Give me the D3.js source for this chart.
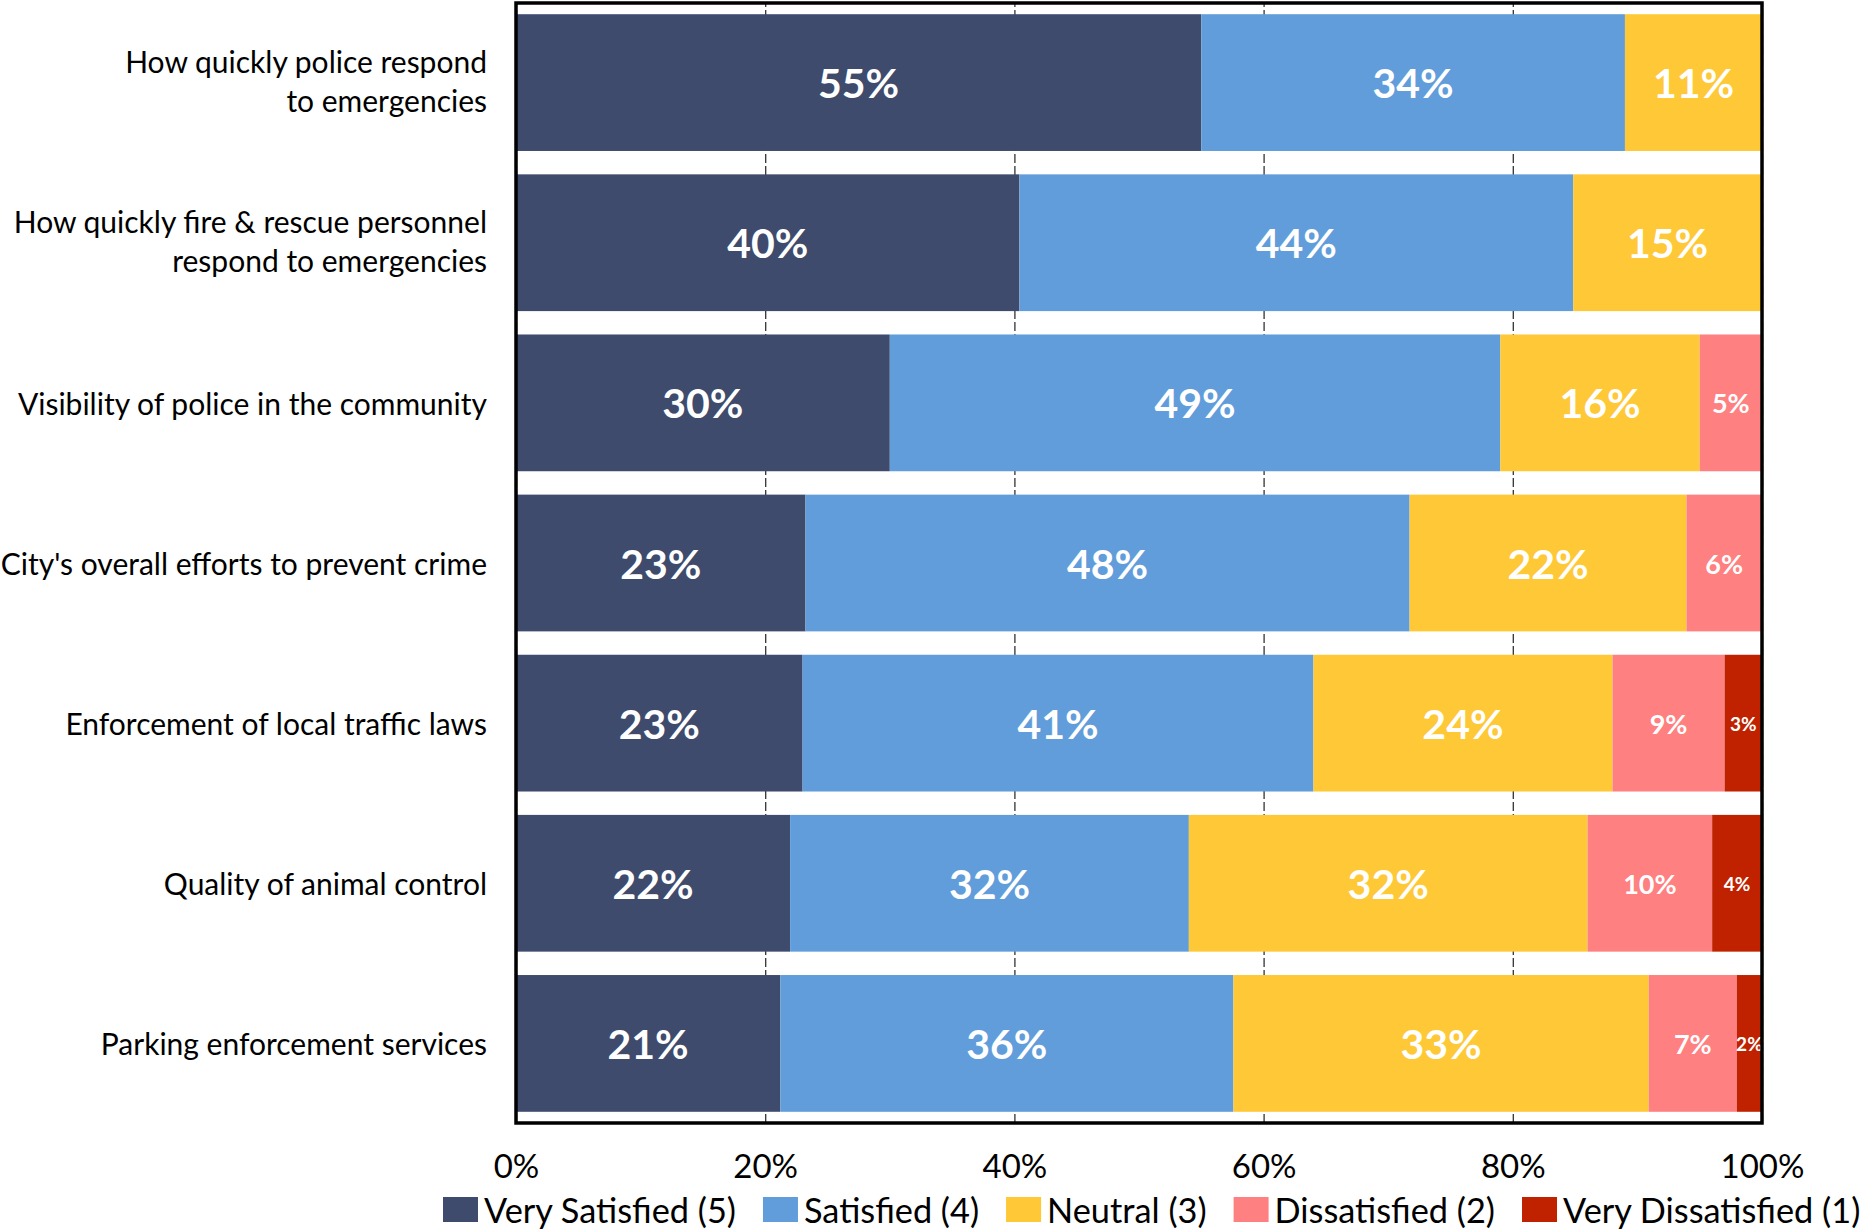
<!DOCTYPE html>
<html>
<head>
<meta charset="utf-8">
<script src="https://cdn.jsdelivr.net/npm/d3@7/dist/d3.min.js"></script>
<style>
  html, body { margin: 0; padding: 0; background: #fff; }
  svg { display: block; }
  text { font-family: Lato, "Open Sans", "Noto Sans", sans-serif; }
</style>
</head>
<body>
<svg id="chart" width="1864" height="1230"></svg>
<script>
// Survey items (top to bottom); "\n" marks a line break in the axis label
const categories = [
  "How quickly police respond\nto emergencies",
  "How quickly fire & rescue personnel\nrespond to emergencies",
  "Visibility of police in the community",
  "City's overall efforts to prevent crime",
  "Enforcement of local traffic laws",
  "Quality of animal control",
  "Parking enforcement services"
];

// Response levels, in stacking order
const seriesNames = [
  "Very Satisfied (5)",
  "Satisfied (4)",
  "Neutral (3)",
  "Dissatisfied (2)",
  "Very Dissatisfied (1)"
];

// Percent of respondents per item, one array per response level
const verySatisfied    = [55, 40, 30, 23, 23, 22, 21];
const satisfied        = [34, 44, 49, 48, 41, 32, 36];
const neutral          = [11, 15, 16, 22, 24, 32, 33];
const dissatisfied     = [0, 0, 5, 6, 9, 10, 7];
const veryDissatisfied = [0, 0, 0, 0, 3, 4, 2];

// X axis tick values (percent)
const xTickValues = [0, 20, 40, 60, 80, 100];

const seriesColors = ["#3E4B6D", "#619DDA", "#FEC836", "#FF8080", "#C02200"];
const labelSizes = [41, 41, 41, 27, 19];

const seriesValues = [verySatisfied, satisfied, neutral, dissatisfied, veryDissatisfied];
const rows = categories.map((c, i) => {
  const r = { category: c };
  seriesNames.forEach((s, k) => { r[s] = seriesValues[k][i]; });
  return r;
});

const stack = d3.stack().keys(seriesNames).offset(d3.stackOffsetExpand);
const layers = stack(rows);

const svg = d3.select("#chart");
const plot = { left: 516, right: 1762, top: 3, bottom: 1123 };

const x = d3.scaleLinear().domain([0, 1]).range([plot.left, plot.right]);
const y = d3.scaleBand()
  .domain(categories)
  .range([plot.top, plot.bottom])
  .paddingInner(0.146)
  .paddingOuter(0.07);

// Dashed vertical gridlines behind the bars
const grid = svg.append("g")
  .attr("transform", `translate(0,${plot.bottom})`)
  .call(d3.axisBottom(x)
    .tickValues(xTickValues.map(v => v / 100))
    .tickSize(-(plot.bottom - plot.top))
    .tickFormat(""));
grid.select(".domain").remove();
grid.selectAll(".tick line")
  .attr("stroke", "#333")
  .attr("stroke-width", 1.3)
  .attr("stroke-dasharray", "9,3");

// Stacked bars
const layerG = svg.append("g").selectAll("g")
  .data(layers)
  .join("g")
  .attr("fill", (d, i) => seriesColors[i]);

layerG.selectAll("rect")
  .data(d => d)
  .join("rect")
  .attr("x", d => x(d[0]))
  .attr("y", d => y(d.data.category))
  .attr("width", d => x(d[1]) - x(d[0]))
  .attr("height", y.bandwidth());

// Value labels centred in each segment
layers.forEach((layer, k) => {
  svg.append("g").selectAll("text")
    .data(layer.filter(d => d.data[layer.key] > 0))
    .join("text")
    .attr("x", d => (x(d[0]) + x(d[1])) / 2)
    .attr("y", d => y(d.data.category) + y.bandwidth() / 2)
    .attr("text-anchor", "middle")
    .attr("dominant-baseline", "central")
    .attr("fill", "#fff")
    .attr("font-weight", 700)
    .attr("font-size", labelSizes[k])
    .text(d => d.data[layer.key] + "%");
});

// Category labels to the left of the plot
const catG = svg.append("g");
categories.forEach(c => {
  const lines = c.split("\n");
  const cy = y(c) + y.bandwidth() / 2 - (lines.length > 1 ? 2 : 0);
  const lh = 39;
  const t = catG.append("text")
    .attr("text-anchor", "end")
    .attr("font-size", 30)
    .attr("fill", "#000");
  lines.forEach((ln, j) => {
    t.append("tspan")
      .attr("x", 487)
      .attr("y", cy + (j - (lines.length - 1) / 2) * lh)
      .attr("dominant-baseline", "central")
      .text(ln);
  });
});

// X axis tick labels
const xAxis = svg.append("g")
  .attr("transform", `translate(0,${plot.bottom})`)
  .call(d3.axisBottom(x)
    .tickValues(xTickValues.map(v => v / 100))
    .tickSize(0)
    .tickPadding(0)
    .tickFormat(d3.format(".0%")));
xAxis.select(".domain").remove();
xAxis.selectAll(".tick text")
  .attr("y", 42)
  .attr("dy", null)
  .attr("dominant-baseline", "central")
  .attr("font-family", null)
  .attr("font-size", 33)
  .attr("fill", "#000");

// Plot frame
svg.append("rect")
  .attr("x", plot.left)
  .attr("y", plot.top)
  .attr("width", plot.right - plot.left)
  .attr("height", plot.bottom - plot.top)
  .attr("fill", "none")
  .attr("stroke", "#000")
  .attr("stroke-width", 3.5);

// Legend, laid out left to right
const legend = svg.append("g");
const legendY = 1209;
let lx = 443;
seriesNames.forEach((s, i) => {
  legend.append("rect")
    .attr("x", lx)
    .attr("y", legendY - 12)
    .attr("width", 35)
    .attr("height", 25)
    .attr("fill", seriesColors[i]);
  const t = legend.append("text")
    .attr("x", lx + 41)
    .attr("y", legendY)
    .attr("dominant-baseline", "central")
    .attr("font-size", 34.3)
    .attr("fill", "#000")
    .text(s);
  lx += 41 + t.node().getComputedTextLength() + 27;
});
</script>
</body>
</html>
